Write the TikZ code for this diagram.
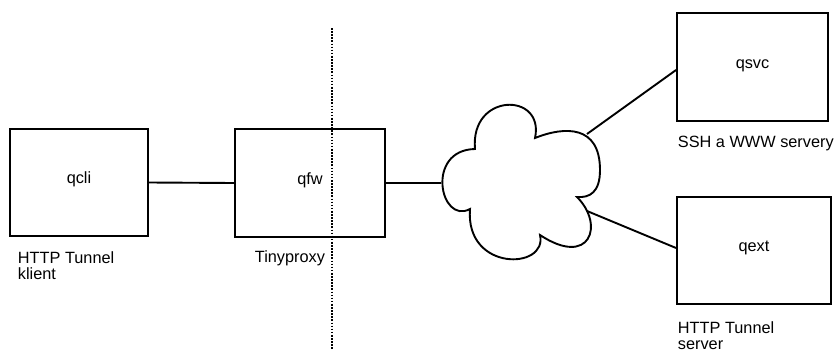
\documentclass[tikz,border=0pt]{standalone}
\usepackage{fontspec}
\setmainfont{Liberation Sans}
\begin{document}
\begin{tikzpicture}[x=1pt,y=-1pt,
  line width=1.9pt,
  host/.style={draw, rectangle, inner sep=0pt, font=\fontsize{16.3}{16}\selectfont,
               text height=11.5pt, text depth=9.5pt},
  caption/.style={anchor=base west, inner sep=0pt, align=left,
                  font=\fontsize{16.3}{16}\selectfont},
  wire/.style={draw, line width=1.9pt},
  fence/.style={line width=1.8pt, dash pattern=on 1.6pt off 1.5pt}]
\useasboundingbox (0,0) rectangle (838,351);

% hosts
\node[host, minimum width=138pt, minimum height=107pt] (qcli) at (79,182.5) {qcli};
\node[host, minimum width=150pt, minimum height=108pt] (qfw)  at (310,183) {qfw};
\node[host, minimum width=151pt, minimum height=108pt] (qsvc) at (752.5,67) {qsvc};
\node[host, minimum width=154pt, minimum height=107pt] (qext) at (754,250.5) {qext};

% captions (base anchor sits on the last line)
\node[caption] (lcli) at (17,279.5) {HTTP Tunnel\\klient};
\node[caption] (lfw)  at (254,262) {Tinyproxy};
\node[caption] (lsvc) at (677,147.5) {SSH a WWW servery};
\node[caption] (lext) at (677,349) {HTTP Tunnel\\server};

% internet cloud
\draw (475,149)
   .. controls (470,92) and (545,92) .. (535,138)
   .. controls (565,126) and (600,125) .. (600,170)
   .. controls (600,192) and (590,198) .. (577,197)
   .. controls (605,225) and (590,268) .. (540,235)
   .. controls (548,270) and (465,272) .. (470,209)
   .. controls (440,225) and (425,150) .. (475,149) -- cycle;
\coordinate (cloud-w)  at (440.5,183);
\coordinate (cloud-ne) at (587,134);
\coordinate (cloud-se) at (587,211);

% firewall boundary
\coordinate (fence-top) at (332,28);
\coordinate (fence-bot) at (332,350);
\draw[fence] (fence-top) -- (fence-bot);

% links
\draw[wire] (qcli.east) -- (qfw.west);
\draw[wire] (qfw.east) -- (cloud-w);
\draw[wire] (cloud-ne) -- ([yshift=-3pt]qsvc.west);
\draw[wire] (cloud-se) -- ([yshift=2.5pt]qext.west);
\end{tikzpicture}
\end{document}
